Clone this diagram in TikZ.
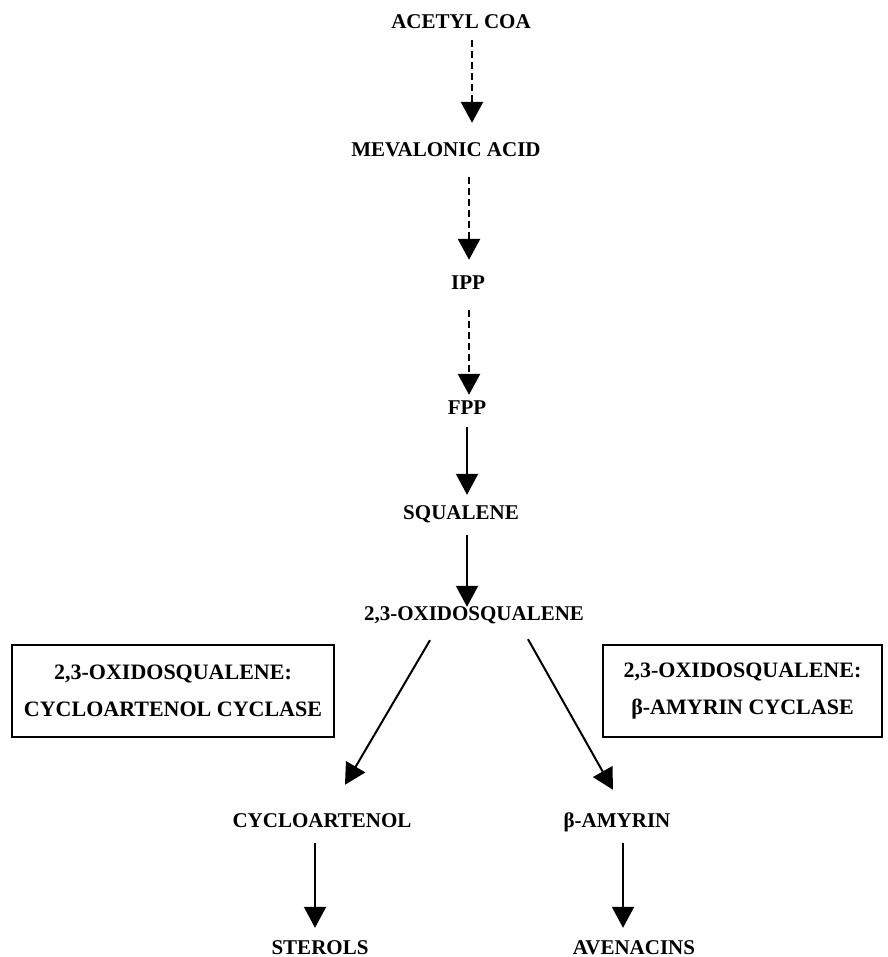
\documentclass[tikz,border=0pt]{standalone}
\usepackage{fontspec}
\setmainfont{Liberation Serif}
\usepackage{tikz}
\usetikzlibrary{arrows.meta,positioning,calc}
\tikzset{
  chem/.style={font=\bfseries\fontsize{21}{25}\selectfont, text height=14pt, text depth=0pt, inner sep=0pt},
  enzbox/.style={draw, line width=1.4pt, align=center, inner sep=0pt,
    minimum height=92pt, font=\bfseries\fontsize{22}{37}\selectfont},
  flow/.style={line width=2pt, -{Triangle[length=21pt,width=22pt]}},
  dflow/.style={flow, line width=2.8pt, dash pattern=on 7pt off 4pt},
}

\begin{document}
\begin{tikzpicture}[x=1pt, y=-1pt]
\useasboundingbox (0,0) rectangle (887,957);
\node[chem] (acetyl) at (461,22) {ACETYL COA};
\node[chem] (meva) at (446,150) {MEVALONIC ACID};
\node[chem] (ipp) at (468,283) {IPP};
\node[chem] (fpp) at (467,407) {FPP};
\node[chem] (squal) at (461,512) {SQUALENE};
\node[chem] (oxido) at (474,613) {2,3-OXIDOSQUALENE};
\node[chem] (cyclo) at (322,820) {CYCLOARTENOL};
\node[chem] (amyrin) at (617,820) {β-AMYRIN};
\node[chem] (sterols) at (320,947) {STEROLS};
\node[chem] (avena) at (634,947) {AVENACINS};
\node[enzbox, minimum width=322pt] (cas) at (173,691) {2,3-OXIDOSQUALENE:\\CYCLOARTENOL CYCLASE};
\node[enzbox, minimum width=279pt] (bas) at (742.5,691) {2,3-OXIDOSQUALENE:\\β-AMYRIN CYCLASE};
\coordinate (colA) at (472,0);
\coordinate (colB) at (469,0);
\coordinate (colC) at (467,0);
\coordinate (colL) at (315,0);
\coordinate (colR) at (623,0);
\draw[dflow, shorten <=11pt, shorten >=20pt] (acetyl.south -| colA) -- (meva.north -| colA);
\draw[dflow, shorten <=20pt, shorten >=16pt] (meva.south -| colB) -- (ipp.north -| colB);
\draw[dflow, shorten <=20pt, shorten >=5pt] (ipp.south -| colB) -- (fpp.north -| colB);
\draw[flow, shorten <=13pt, shorten >=10pt] (fpp.south -| colC) -- (squal.north -| colC);
\draw[flow, shorten <=16pt, shorten >=-1pt] (squal.south -| colC) -- (oxido.north -| colC);
\draw[flow] ([shift={(-44,20)}]oxido.south) -- ([shift={(23,-28)}]cyclo.north);
\draw[flow] ([shift={(54,19)}]oxido.south) -- ([shift={(-4,-23)}]amyrin.north);
\draw[flow, shorten <=16pt, shorten >=12pt] (cyclo.south -| colL) -- (sterols.north -| colL);
\draw[flow, shorten <=16pt, shorten >=12pt] (amyrin.south -| colR) -- (avena.north -| colR);
\end{tikzpicture}
\end{document}
